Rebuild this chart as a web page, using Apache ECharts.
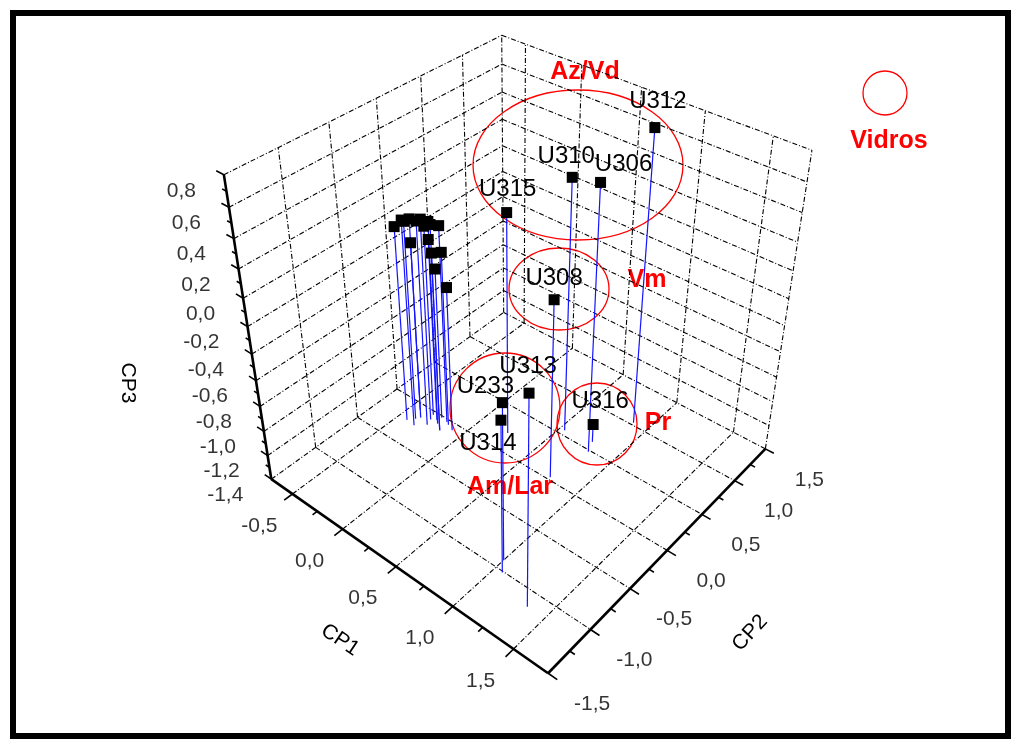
<!DOCTYPE html>
<html><head><meta charset="utf-8">
<script src="https://cdn.jsdelivr.net/npm/echarts@6/dist/echarts.min.js"></script>
<style>html,body{margin:0;padding:0;background:#fff}#c{width:1015px;height:742px}</style>
</head><body><div id="c"></div>
<script>
// ---- data ----
const names=['U312','U310','U306','U315','U308','U313','U233','U314','U316','','','','','','','','','','','','','','','',''];
const cp1=[0.88,0.54,0.81,0.24,0.76,1.36,1.00,1.06,0.77,-0.42,-0.34,-0.36,-0.27,-0.31,-0.16,-0.18,-0.42,-0.25,-0.16,-0.15,-0.24,-0.09,-0.38,-0.22,-0.29];
const cp2=[1.03,0.56,0.48,0.21,0.03,-1.14,-0.91,-1.01,0.60,-0.24,-0.25,-0.14,-0.17,-0.04,-0.15,-0.03,-0.07,-0.07,-0.15,-0.05,-0.02,-0.08,-0.18,-0.10,-0.10];
const cp3=[0.80,0.52,0.61,0.30,-0.02,0.17,-0.19,-0.23,-1.25,0.12,0.20,0.16,0.19,0.09,0.20,0.14,-0.06,0.03,0.00,-0.03,-0.20,-0.25,0.15,0.18,0.17];
const cp1Ticks=[-0.5,0,0.5,1,1.5];
const cp2Ticks=[-1.5,-1,-0.5,0,0.5,1,1.5];
const cp3Ticks=[0.8,0.6,0.4,0.2,0,-0.2,-0.4,-0.6,-0.8,-1,-1.2,-1.4];
const groupLabels=['Az/Vd','Vm','Am/Lar','Pr','Vidros'];
const fmt=v=>v.toFixed(1).replace('.',',');

// ---- 3D box & perspective view (layout) ----
const BOX={x:[-0.72,1.77],y:[-1.5,1.5],z:[-1.4,0.8]};
const VIEW=[[-0.72,-1.5,-1.4,272,482],[-0.72,-1.5,0.8,223,170],[-0.72,1.5,0.8,502,42],[-0.72,1.5,-1.4,503,303],
[1.77,1.5,0.8,813,147],[1.77,1.5,-1.4,765,455],[1.77,-1.5,-1.4,547,667],[0.5,-1.5,-1.4,397,567],
[1.77,0,-1.4,667,552],[-0.72,-1.5,0,242,296],[-0.72,-1.5,-1,265,439]];
function nrm(X,Y,Z){return [(X-BOX.x[0])/(BOX.x[1]-BOX.x[0]),(Y-BOX.y[0])/(BOX.y[1]-BOX.y[0]),(Z-BOX.z[0])/(BOX.z[1]-BOX.z[0])];}
function solveCamera(){const N=11,M=[],r=new Array(N).fill(0);for(let i=0;i<N;i++)M.push(new Array(N).fill(0));
VIEW.forEach(a=>{const [x,y,z]=nrm(a[0],a[1],a[2]),u=a[3]/1000,v=a[4]/1000;
[[[x,y,z,1,0,0,0,0,-u*x,-u*y,-u*z],u],[[0,0,0,0,x,y,z,1,-v*x,-v*y,-v*z],v]].forEach(([row,b])=>{
for(let i=0;i<N;i++){for(let j=0;j<N;j++)M[i][j]+=row[i]*row[j];r[i]+=row[i]*b;}});});
for(let c=0;c<N;c++){let p=c;for(let k=c+1;k<N;k++)if(Math.abs(M[k][c])>Math.abs(M[p][c]))p=k;
[M[c],M[p]]=[M[p],M[c]];[r[c],r[p]]=[r[p],r[c]];
for(let k=c+1;k<N;k++){const f=M[k][c]/M[c][c];for(let j=c;j<N;j++)M[k][j]-=f*M[c][j];r[k]-=f*r[c];}}
const p=new Array(N).fill(0);for(let i=N-1;i>=0;i--){let s=r[i];for(let j=i+1;j<N;j++)s-=M[i][j]*p[j];p[i]=s/M[i][i];}return p;}
const P=solveCamera();
function proj(X,Y,Z){const [x,y,z]=nrm(X,Y,Z);const w=P[8]*x+P[9]*y+P[10]*z+1;
return [1000*(P[0]*x+P[1]*y+P[2]*z+P[3])/w,1000*(P[4]*x+P[5]*y+P[6]*z+P[7])/w];}

const X0=BOX.x[0],X1=BOX.x[1],Y0=BOX.y[0],Y1=BOX.y[1],Z0=BOX.z[0],Z1=BOX.z[1];
const seg=(a,b)=>({coords:[proj(...a),proj(...b)]});
const grid=[];
cp2Ticks.filter(t=>t>Y0&&t<Y1).forEach(t=>grid.push(seg([X0,t,Z0],[X0,t,Z1]),seg([X0,t,Z0],[X1,t,Z0])));
cp1Ticks.filter(t=>t>X0&&t<X1).forEach(t=>grid.push(seg([t,Y1,Z0],[t,Y1,Z1]),seg([t,Y0,Z0],[t,Y1,Z0])));
cp3Ticks.filter(t=>t>Z0).forEach(t=>grid.push(seg([X0,Y0,t],[X0,Y1,t]),seg([X0,Y1,t],[X1,Y1,t])));
grid.push(seg([X0,Y1,Z0],[X0,Y1,Z1]),seg([X1,Y1,Z0],[X1,Y1,Z1]),seg([X0,Y0,Z0],[X0,Y1,Z0]),seg([X0,Y1,Z0],[X1,Y1,Z0]));
const axes=[seg([X0,Y0,Z0],[X0,Y0,Z1]),seg([X0,Y0,Z0],[X1,Y0,Z0]),seg([X1,Y0,Z0],[X1,Y1,Z0])];
const ticks=[];
for(let k=0;k<=22;k++){const t=-1.4+k*0.1,maj=k%2===0;ticks.push(seg([X0,Y0,t],[X0-(maj?0.07:0.04),Y0,t]));}
for(let k=0;k<=8;k++){const t=-0.5+k*0.25,maj=k%2===0;ticks.push(seg([t,Y0,Z0],[t,Y0-(maj?0.09:0.05),Z0]));}
for(let k=0;k<=12;k++){const t=-1.5+k*0.25,maj=k%2===0;ticks.push(seg([X1,t,Z0],[X1+(maj?0.07:0.04),t,Z0]));}
const drops=names.map((n,i)=>seg([cp1[i],cp2[i],cp3[i]],[cp1[i],cp2[i],Z0]));
const labelOff={U312:[3,-26],U310:[-6,-21],U306:[23,-18],U315:[1,-23],U308:[0,-21],U313:[-1,-27],U233:[-17,-16],U314:[-13,23],U316:[7,-23]};
const pts=names.map((n,i)=>({name:n,value:proj(cp1[i],cp2[i],cp3[i]),
label:{show:!!n,position:'inside',offset:labelOff[n]||[0,0]}}));
const F='"Liberation Sans", Arial, sans-serif';
const tl=(arr,f,off,align)=>arr.map(t=>({name:fmt(t),value:f(t),label:{offset:off,align:align}}));
const tickLab=[].concat(tl(cp3Ticks,t=>proj(X0,Y0,t),[-28,16],'right'),tl(cp1Ticks,t=>proj(t,Y0,Z0),[-33,32],'center'),tl(cp2Ticks,t=>proj(X1,t,Z0),[44,31],'center'));
const groupPos=[[585,72],[647,280],[510,487],[658,423],[889,141]];
const chart=echarts.init(document.getElementById('c'),null,{renderer:'canvas'});
chart.setOption({animation:false,backgroundColor:'#fff',
grid:{left:0,right:0,top:0,bottom:0},
xAxis:{type:'value',min:0,max:1015,show:false},yAxis:{type:'value',min:0,max:742,inverse:true,show:false},
series:[
{type:'lines',coordinateSystem:'cartesian2d',silent:true,z:1,data:grid,lineStyle:{color:'#000',width:1.1,type:[5,2,1,2],opacity:1}},
{type:'lines',coordinateSystem:'cartesian2d',silent:true,z:2,data:axes,lineStyle:{color:'#000',width:2.6,type:'solid',opacity:1}},
{type:'lines',coordinateSystem:'cartesian2d',silent:true,z:2,data:ticks,lineStyle:{color:'#000',width:1.6,type:'solid',opacity:1}},
{type:'lines',coordinateSystem:'cartesian2d',silent:true,z:3,data:drops,lineStyle:{color:'#1414ff',width:1.2,type:'solid',opacity:1}},
{type:'scatter',z:4,symbol:'rect',symbolSize:11,itemStyle:{color:'#000',opacity:1},data:pts,
label:{color:'#000',fontSize:24,fontFamily:F,formatter:p=>p.name}},
{type:'scatter',z:4,symbolSize:1,itemStyle:{color:'transparent'},data:tickLab,
label:{show:true,position:'inside',verticalAlign:'middle',color:'#000',fontSize:21,fontFamily:F,formatter:p=>p.name}}
],
graphic:[
{type:'rect',shape:{x:13,y:13,width:995,height:723},style:{fill:'none',stroke:'#000',lineWidth:6}},
{type:'ellipse',shape:{cx:578,cy:165,rx:105,ry:75},style:{fill:'none',stroke:'#f00',lineWidth:1.3}},
{type:'ellipse',shape:{cx:559,cy:289,rx:50,ry:41},style:{fill:'none',stroke:'#f00',lineWidth:1.3}},
{type:'ellipse',shape:{cx:505,cy:408,rx:55,ry:55},style:{fill:'none',stroke:'#f00',lineWidth:1.3}},
{type:'ellipse',shape:{cx:597,cy:424,rx:40,ry:41},style:{fill:'none',stroke:'#f00',lineWidth:1.3}},
{type:'circle',shape:{cx:885,cy:93,r:22},style:{fill:'none',stroke:'#f00',lineWidth:1.3}},
...groupLabels.map((t,i)=>({type:'text',x:groupPos[i][0],y:groupPos[i][1],style:{text:t,fill:'#f00',font:'bold 25px '+F,textAlign:'center',textVerticalAlign:'middle'}})),
{type:'text',x:128,y:383,rotation:-Math.PI/2,style:{text:'CP3',fill:'#000',font:'21px '+F,textAlign:'center',textVerticalAlign:'middle'}},
{type:'text',x:340,y:640,rotation:-34*Math.PI/180,style:{text:'CP1',fill:'#000',font:'21px '+F,textAlign:'center',textVerticalAlign:'middle'}},
{type:'text',x:750,y:633,rotation:47*Math.PI/180,style:{text:'CP2',fill:'#000',font:'21px '+F,textAlign:'center',textVerticalAlign:'middle'}}
]});
</script></body></html>
